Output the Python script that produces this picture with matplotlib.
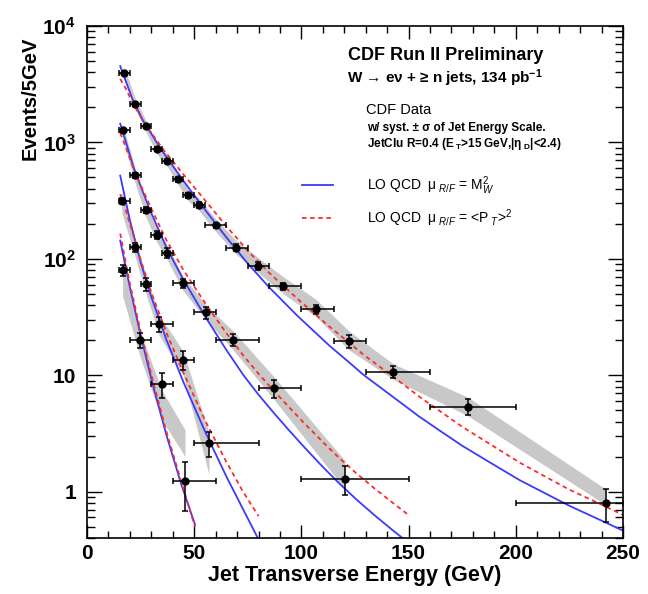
import numpy as np
import matplotlib
matplotlib.use("Agg")
import matplotlib.pyplot as plt
from matplotlib.ticker import MultipleLocator, LogLocator, FixedLocator, FixedFormatter, NullFormatter

plt.rcParams['font.family'] = ['Liberation Sans', 'DejaVu Sans']
plt.rcParams['mathtext.fontset'] = 'custom'
plt.rcParams['mathtext.rm'] = 'Liberation Sans'
plt.rcParams['mathtext.it'] = 'Liberation Sans:italic'
plt.rcParams['mathtext.bf'] = 'Liberation Sans:bold'
plt.rcParams['mathtext.sf'] = 'Liberation Sans'

#
# Data: >= 1 jet
x1 = [17.3, 22.4, 27.4, 32.5, 37.5, 42.6, 47.2, 52.2, 60.0, 69.4, 79.9, 91.6, 106.7, 122.2, 142.9, 177.5, 242.0]
y1 = [3960, 2143, 1387, 885, 693, 482, 351, 290, 194, 125, 87, 58, 37, 19.5, 10.7, 5.38, 0.80]
lo1 = [15, 20, 25, 30, 35, 40, 45, 50, 55, 65, 75, 85, 100, 115, 130, 160, 200]
hi1 = [20, 25, 30, 35, 40, 45, 50, 55, 65, 75, 85, 100, 115, 130, 160, 200, 250]
e1 = [63, 46, 37, 30, 26, 22, 19, 17, 9.8, 7.9, 6.6, 4.4, 3.5, 2.5, 1.3, 0.82, 0.25]
band1_lo = [3500, 1950, 1250, 800, 620, 430, 315, 260, 172, 110, 76, 50, 32, 16.5, 9.2, 4.5, 0.77]
band1_hi = [4500, 2400, 1550, 990, 780, 545, 395, 330, 220, 145, 102, 70, 45, 24, 12.5, 6.5, 1.05]

# >= 2 jets
x2 = [16.6, 22.4, 27.4, 32.5, 37.5, 44.6, 55.4, 68.2, 87.2, 120.3]
y2 = [1271, 521, 264, 161, 113, 62, 34.6, 20.2, 7.75, 1.29]
lo2 = [15, 20, 25, 30, 35, 40, 50, 60, 80, 100]
hi2 = [20, 25, 30, 35, 40, 50, 60, 80, 100, 150]
e2 = [36, 23, 16, 13, 11, 5.6, 4.2, 2.2, 1.4, 0.36]
band2_lo = [1100, 450, 230, 140, 98, 54, 30, 16.5, 6.2, 1.05]
band2_hi = [1450, 600, 300, 185, 130, 72, 40, 24, 9.7, 1.85]

# >= 3 jets
x3 = [16.2, 22.4, 27.5, 33.7, 44.9, 56.9]
y3 = [312, 126, 61, 27.5, 13.6, 2.64]
lo3 = [15, 20, 25, 30, 40, 50]
hi3 = [20, 25, 30, 40, 50, 80]
e3 = [18, 11, 7.8, 4.0, 2.4, 0.64]
band3_lo = [250, 105, 50, 22, 10, 1.4]
band3_hi = [380, 150, 72, 33, 16, 3.2]

# >= 4 jets
x4 = [16.6, 24.7, 34.8, 45.7]
y4 = [79.5, 20.2, 8.4, 1.24]
lo4 = [15, 20, 30, 40]
hi4 = [20, 30, 40, 60]
e4 = [8.9, 2.9, 2.0, 0.56]
band4_lo = [48, 14.5, 4.2, 2.0]
band4_hi = [100, 24, 7.5, 3.4]

# LO QCD, mu = M_W^2 (blue) and mu = <PT>^2 (red)
xb1 = [15.5, 18, 21, 23.5, 26, 30, 35, 40, 45, 50, 55, 60, 65, 70, 75, 80, 85, 91, 98, 105,
       113, 121, 129, 142, 155, 165, 175, 188, 202, 213, 225, 237, 250]
yb1 = [4520, 3390, 2400, 1930, 1550, 1190, 849, 630, 467, 352, 265, 201, 153, 118, 91, 71.9,
       56.8, 44, 32.6, 24.7, 18.0, 13.5, 10.07, 6.67, 4.41, 3.30, 2.48, 1.78, 1.25, 0.983,
       0.756, 0.598, 0.463]
xr1 = [15.5, 18, 21, 24, 27, 30, 35, 40, 45, 50, 55, 60, 65, 70, 75, 80, 85, 91, 100, 105,
       113, 121, 129, 142, 155, 165, 175, 188, 202, 213, 225, 237, 250]
yr1 = [3510, 2920, 2240, 1800, 1450, 1210, 899, 690, 530, 412, 319, 247, 190, 150, 117, 94.3,
       75.7, 60, 42.3, 35.3, 26.2, 19.9, 15.0, 9.98, 6.55, 4.86, 3.61, 2.56, 1.77, 1.37,
       1.04, 0.821, 0.632]

xb2 = [15.5, 18.5, 22, 25.5, 29, 33, 37, 41, 45, 50.5, 56, 65, 73, 80, 87, 94, 101, 110,
       118, 126, 134, 142, 150]
yb2 = [1450, 957, 590, 401, 272, 185, 126, 91, 65.9, 44.5, 30.1, 16.5, 10.0, 6.81, 4.78,
       3.40, 2.45, 1.63, 1.16, 0.846, 0.630, 0.476, 0.363]
xr2 = xb2
yr2 = [1205, 863, 577, 412, 295, 207, 145, 108, 80, 56, 39.4, 23.0, 14.7, 10.3, 7.40,
       5.38, 3.93, 2.67, 1.92, 1.42, 1.07, 0.818, 0.630]

xb3 = [15.5, 17.5, 20, 22.5, 25, 27.5, 30, 33.5, 37, 41, 45, 50, 55, 60, 65, 72.5, 80]
yb3 = [518, 350, 215, 142, 93.8, 66.4, 47.0, 30.9, 20.3, 13.3, 8.71, 5.37, 3.31, 2.11,
       1.35, 0.724, 0.389]
xr3 = xb3
yr3 = [359, 285, 200, 142, 98.2, 71.1, 51.5, 34.7, 23.3, 15.6, 10.5, 6.58, 4.12, 2.72,
       1.80, 1.02, 0.617]

xb4 = [15.5, 17.75, 20, 22.5, 25, 28, 31, 34, 37, 40.5, 44, 47.2, 50.4]
yb4 = [143.5, 90.5, 57.1, 35.6, 22.2, 13.2, 7.88, 4.93, 3.08, 1.88, 1.15, 0.774, 0.52]
xr4 = xb4
yr4 = [165, 100, 61.2, 38.2, 23.8, 14.2, 8.54, 5.32, 3.30, 2.0, 1.21, 0.774, 0.497]

blue = '#3a3aff'
red = '#ff2a2a'
gray = '#c8c8c8'

def fx(px):
    return px / 648.0

def fy(py):
    return 1 - py / 594.0

fig = plt.figure(figsize=(6.48, 5.94), dpi=100)
ax = fig.add_axes([fx(87), fy(538), fx(623) - fx(87), fy(26) - fy(538)])
ax.set_yscale('log')

data = [(x1, y1, lo1, hi1, e1, band1_lo, band1_hi),
        (x2, y2, lo2, hi2, e2, band2_lo, band2_hi),
        (x3, y3, lo3, hi3, e3, band3_lo, band3_hi),
        (x4, y4, lo4, hi4, e4, band4_lo, band4_hi)]
curves = [(xb1, yb1, xr1, yr1), (xb2, yb2, xr2, yr2), (xb3, yb3, xr3, yr3), (xb4, yb4, xr4, yr4)]

# systematic bands
for x, y, lo, hi, e, blo, bhi in data:
    ax.fill_between(x, blo, bhi, color=gray, lw=0, zorder=1)

for i, (xb, yb, xr, yr) in enumerate(curves):
    ax.plot(xb, yb, color=blue, lw=1.3, zorder=2,
            label=r'LO QCD  μ$_{\ R/F}$ = M$_{W}^{2}$' if i == 0 else None)
    ax.plot(xr, yr, color=red, lw=1.3, ls=(0, (2.5, 2.0)), zorder=2,
            label=r'LO QCD  μ$_{\ R/F}$ = <P$_{\ T}$>$^{2}$' if i == 0 else None)

for x, y, lo, hi, e, blo, bhi in data:
    x = np.array(x)
    xerr = [x - np.array(lo), np.array(hi) - x]
    ax.errorbar(x, y, xerr=xerr, yerr=e, fmt='o', color='k', ms=5,
                elinewidth=1.1, capsize=2.5, capthick=1.1, zorder=3)

ax.set_xlim(0, 250)
ax.set_ylim(0.4, 1e4)

ax.xaxis.set_major_locator(MultipleLocator(50))
ax.xaxis.set_minor_locator(MultipleLocator(10))
ax.yaxis.set_major_locator(FixedLocator([1, 10, 100, 1000, 10000]))
ax.yaxis.set_major_formatter(FixedFormatter(['1', '10', r'$\mathbf{10^{2}}$',
                                             r'$\mathbf{10^{3}}$', r'$\mathbf{10^{4}}$']))
ax.yaxis.set_minor_locator(LogLocator(base=10, subs=np.arange(2, 10), numticks=20))
ax.yaxis.set_minor_formatter(NullFormatter())

ax.tick_params(which='both', direction='in', top=True, right=True, width=1.0)
ax.tick_params(axis='x', which='major', length=9.5, pad=4, labelsize=15)
ax.tick_params(axis='x', which='minor', length=5)
ax.tick_params(axis='y', which='major', length=11, pad=8, labelsize=15)
ax.tick_params(axis='y', which='minor', length=5.5)
for lab in ax.get_xticklabels() + ax.get_yticklabels():
    lab.set_fontweight('bold')
for sp in ax.spines.values():
    sp.set_linewidth(1.2)

ax.set_xlabel('Jet Transverse Energy (GeV)', fontsize=15.5, fontweight='bold', labelpad=2)
fig.text(fx(30), fy(98), 'Events/5GeV', rotation=90, ha='center', va='center',
         fontsize=14.5, fontweight='bold')

fig.text(fx(446), fy(55), 'CDF Run II Preliminary', ha='center', va='center',
         fontsize=13, fontweight='bold')
fig.text(fx(445), fy(78), r'W → eν + ≥ n jets, 134 pb$^{\mathbf{-1}}$', ha='center', va='center',
         fontsize=11, fontweight='bold')
fig.text(fx(366), fy(110), 'CDF Data', ha='left', va='center', fontsize=10.5)
fig.text(fx(367), fy(128), 'w/ syst. ± σ of Jet Energy Scale.', ha='left', va='center',
         fontsize=8.5, fontweight='bold')
fig.text(fx(367), fy(144), r'JetClu R=0.4 (E$_{\mathbf{\ T}}$>15 GeV,|η$_{\mathbf{\ D}}$|<2.4)',
         ha='left', va='center', fontsize=8.5, fontweight='bold')

ax.legend(loc='upper left', bbox_to_anchor=(fx(302), fy(174)), bbox_transform=fig.transFigure,
          frameon=False, fontsize=10, handlelength=2.2, handletextpad=2.5,
          labelspacing=0.75, borderpad=0, borderaxespad=0)

fig.savefig('out.png', dpi=100)
